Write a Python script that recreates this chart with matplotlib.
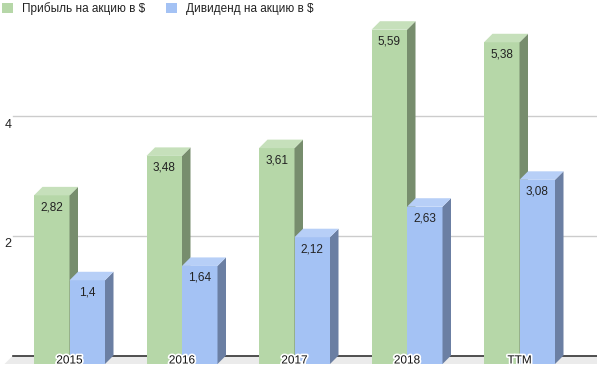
import matplotlib.pyplot as plt
from matplotlib.patches import Polygon, Patch
import matplotlib.patheffects as pe

plt.rcParams['font.family'] = ['Liberation Sans', 'DejaVu Sans']

# data
categories = ['2015', '2016', '2017', '2018', 'TTM']
profit = [2.82, 3.48, 3.61, 5.59, 5.38]
dividend = [1.4, 1.64, 2.12, 2.63, 3.08]
labels_profit = ['2,82', '3,48', '3,61', '5,59', '5,38']
labels_div = ['1,4', '1,64', '2,12', '2,63', '3,08']
yticks = [2, 4]
series_names = ['Прибыль на акцию в $', 'Дивиденд на акцию в $']

# colours (front, side, top)
green = ('#b6d7a8', '#778d6d', '#c6e0bb')
blue = ('#a4c2f4', '#6b7fa3', '#b7cff7')

W, H = 597, 367
fig = plt.figure(figsize=(W / 100, H / 100), dpi=100)
ax = fig.add_axes([0, 0, 1, 1])

# pixel geometry of the chart area
px_per_cat = 112.5
x0_px = 69.5          # front centre of first group
px_per_unit = 59.8
y0_px = 355.5         # baseline (back plane)
ax.set_xlim(-x0_px / px_per_cat, (W - x0_px) / px_per_cat)
ax.set_ylim(-(H - y0_px) / px_per_unit, y0_px / px_per_unit)
ax.axis('off')

depth = 8.5
dx = depth / px_per_cat
dy = depth / px_per_unit
bw = 35.5 / px_per_cat
left_px = 13
xl = (left_px - x0_px) / px_per_cat
xr = ax.get_xlim()[1]

# floor
ax.add_patch(Polygon([(xl, 0), (xr + 1, 0), (xr + 1 - dx, -dy), (xl - dx, -dy)],
                     closed=True, facecolor='#ebebeb', edgecolor='none', zorder=1))
# gridlines on back plane
for t in yticks:
    ax.plot([xl, xr], [t, t], color='#cccccc', lw=1, zorder=1)
    ax.text(xl - 0.045, t - dy, str(t), ha='center', va='center',
            fontsize=9, color='#222222', zorder=1)
ax.plot([xl, xr], [0, 0], color='#333333', lw=1.2, zorder=1.5)


def bar3d(x, v, cols, z):
    front, side, top = cols
    y_lo, y_hi = -dy, v - dy
    ax.add_patch(Polygon([(x, y_lo), (x + bw, y_lo), (x + bw, y_hi), (x, y_hi)],
                         closed=True, facecolor=front, edgecolor='none', zorder=z))
    ax.add_patch(Polygon([(x + bw, y_lo), (x + bw + dx, y_lo + dy),
                          (x + bw + dx, y_hi + dy), (x + bw, y_hi)],
                         closed=True, facecolor=side, edgecolor='none', zorder=z))
    ax.add_patch(Polygon([(x, y_hi), (x + bw, y_hi), (x + bw + dx, y_hi + dy),
                          (x + dx, y_hi + dy)],
                         closed=True, facecolor=top, edgecolor='none', zorder=z))


for i, cat in enumerate(categories):
    bar3d(i - bw, profit[i], green, 2 + i * 0.1)
    bar3d(i, dividend[i], blue, 2.05 + i * 0.1)
    ax.text(i - bw / 2, profit[i] - dy - 12 / px_per_unit, labels_profit[i],
            ha='center', va='center', fontsize=8.5, color='#222222', zorder=5)
    ax.text(i + bw / 2, dividend[i] - dy - 12 / px_per_unit, labels_div[i],
            ha='center', va='center', fontsize=8.5, color='#222222', zorder=5)
    ax.text(i, -5 / px_per_unit, cat, ha='center', va='center', fontsize=8.5,
            color='#111111', zorder=6,
            path_effects=[pe.withStroke(linewidth=2.5, foreground='white')])

handles = [Patch(facecolor=green[0]), Patch(facecolor=blue[0])]
fig.legend(handles, series_names, loc='upper left', bbox_to_anchor=(2 / W, 1 - 2 / H),
           ncol=2, frameon=False, fontsize=8.5, handlelength=0.95, handleheight=0.95,
           handletextpad=0.75, columnspacing=1.75, borderpad=0, borderaxespad=0,
           labelcolor='#222222')

fig.savefig('out.png', dpi=100)
